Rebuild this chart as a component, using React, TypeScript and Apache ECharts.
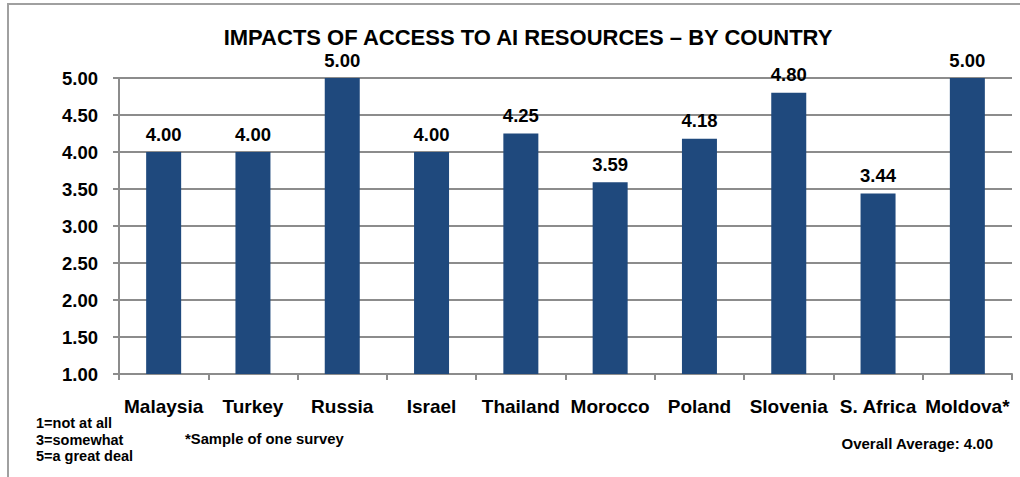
import React, { useEffect, useRef } from "react";
import * as echarts from "echarts";

const TITLE = "IMPACTS OF ACCESS TO AI RESOURCES – BY COUNTRY";
const countries = ["Malaysia", "Turkey", "Russia", "Israel", "Thailand", "Morocco", "Poland", "Slovenia", "S. Africa", "Moldova*"];
const scores = [4.0, 4.0, 5.0, 4.0, 4.25, 3.59, 4.18, 4.8, 3.44, 5.0];
const scaleNotes = ["1=not at all", "3=somewhat", "5=a great deal"];
const sampleNote = "*Sample of one survey";
const averageNote = "Overall Average: 4.00";

export default function App() {
  const ref = useRef<HTMLDivElement>(null);
  useEffect(() => {
    if (!ref.current) return;
    const chart = echarts.init(ref.current, null, { renderer: "svg" });
    const font = "Liberation Sans, Arial, sans-serif";
    chart.setOption({
      animation: false,
      backgroundColor: "#ffffff",
      title: {
        text: TITLE,
        left: 523,
        textAlign: "center",
        top: 20,
        textStyle: { fontFamily: font, fontWeight: "bold", fontSize: 22, color: "#000", lineHeight: 24 },
      },
      grid: { left: 119, right: 8, top: 78, bottom: 103, containLabel: false },
      xAxis: {
        type: "category",
        data: countries,
        axisLine: { lineStyle: { color: "#8c8c8c", width: 2 } },
        axisTick: { show: true, alignWithLabel: false, length: 6, lineStyle: { color: "#8c8c8c", width: 2 } },
        axisLabel: {
          interval: 0,
          margin: 23,
          fontFamily: font,
          fontWeight: "bold",
          fontSize: 19,
          color: "#000",
        },
      },
      yAxis: {
        type: "value",
        min: 1,
        max: 5,
        interval: 0.5,
        axisLine: { show: true, lineStyle: { color: "#8c8c8c", width: 2 } },
        axisTick: { show: true, length: 6, lineStyle: { color: "#8c8c8c", width: 2 } },
        splitLine: { show: true, lineStyle: { color: "#8c8c8c", width: 2 } },
        axisLabel: {
          margin: 21,
          fontFamily: font,
          fontWeight: "bold",
          fontSize: 18.5,
          color: "#000",
          formatter: (v: number) => v.toFixed(2),
        },
      },
      series: [
        {
          type: "bar",
          data: scores,
          barWidth: 35,
          itemStyle: { color: "#1F497D" },
          label: {
            show: true,
            position: "top",
            distance: 9,
            fontFamily: font,
            fontWeight: "bold",
            fontSize: 18.5,
            lineHeight: 18,
            color: "#000",
            formatter: (p: any) => Number(p.value).toFixed(2),
          },
        },
      ],
      graphic: [
        {
          type: "rect",
          shape: { x: 8, y: 4, width: 1200, height: 600 },
          style: { fill: "none", stroke: "#a0a0a0", lineWidth: 2 },
          silent: true,
          z: 100,
        },
        ...scaleNotes.map((t, i) => ({
          type: "text",
          x: 36,
          y: 423 + i * 16.5,
          style: { text: t, verticalAlign: "middle", fontFamily: font, fontWeight: "bold", fontSize: 14.5, fill: "#000" },
        })),
        {
          type: "text",
          x: 185,
          y: 439,
          style: { text: sampleNote, verticalAlign: "middle", fontFamily: font, fontWeight: "bold", fontSize: 14.8, fill: "#000" },
        },
        {
          type: "text",
          x: 993,
          y: 443,
          style: { text: averageNote, align: "right", verticalAlign: "middle", fontFamily: font, fontWeight: "bold", fontSize: 15, fill: "#000" },
        },
      ],
    });
    return () => chart.dispose();
  }, []);
  return <div ref={ref} style={{ position: "fixed", left: 0, top: 0, width: 1020, height: 477 }} />;
}
